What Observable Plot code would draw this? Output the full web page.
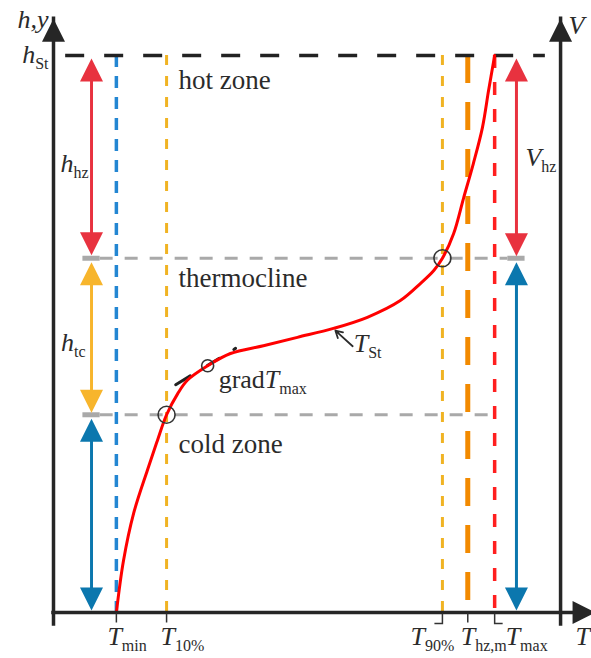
<!DOCTYPE html>
<html><head><meta charset="utf-8">
<script src="https://cdn.jsdelivr.net/npm/d3@7"></script>
<script src="https://cdn.jsdelivr.net/npm/@observablehq/plot@0.6"></script>
<style>
html,body{margin:0;padding:0;background:#fff;overflow:hidden;}
svg{display:block;overflow:hidden;}
</style></head><body><div id="chart"></div>
<script>
// ---------------- values ----------------
// heights (normalised, storage height h_St = 1)
const hSt = 1.0;
const hThermoTop = 0.636;
const hThermoBottom = 0.355;
const hAxisTip = 1.066;
// characteristic temperatures (arbitrary units, V-axis at 100)
const refNames  = ["Tmin", "T10", "T90", "Thzm", "Tmax"];
const refTemps  = [12.4, 22.3, 76.7, 81.7, 87.0];
const refLabels = ["T_min", "T_10%", "T_90%", "T_hz,m", "T_max"];
// temperature profile T_St(h)
const curveT = [12.4, 13.8, 15.8, 18.5, 20.5, 22.3, 24.5, 26.4, 30.4, 34.9, 41.4, 48.1, 55.2, 61.9, 68.4, 72.4, 75.0, 76.7, 78.9, 80.9, 82.8, 84.6, 85.8, 87.0];
const curveH = [0.0, 0.093, 0.178, 0.255, 0.309, 0.355, 0.393, 0.417, 0.443, 0.465, 0.479, 0.494, 0.510, 0.530, 0.560, 0.591, 0.614, 0.636, 0.680, 0.745, 0.806, 0.871, 0.937, 1.0];
// marked points (T10 at cold boundary, max gradient, T90 at thermocline top)
const markT = [22.3, 30.4, 76.7];
const markH = [0.355, 0.443, 0.636];
const markSize = ["big", "small", "big"];
// tangent at max gradient
const tangentT = [24.1, 37.5];
const tangentH = [0.409, 0.483];
// zone texts
const zoneLabels = ["hot zone", "thermocline", "cold zone"];
const zoneHeights = [hSt, hThermoTop, hThermoBottom];

// ---------------- layout / styles ----------------
const C = {ink:"#2b2b2b", curve:"#ff0000", redArrow:"#e8323f", yellowArrow:"#f7b52c", blueArrow:"#0b77ae",
  blueDash:"#2386d2", yellowDash:"#f0b323", orange:"#f28a00", redDash:"#ff1f1f", gray:"#a9a9a9"};
const L = {leftT:7.5, rightT:91.3, vAxisT:100, xTipT:106.9, half:1.7, hStFrom:2.4, hStTo:97};

const tickDown  = {draw(c){c.moveTo(0,0); c.lineTo(0,9);}};
const tickLeft  = {draw(c){c.moveTo(0,0); c.lineTo(0,10); c.lineTo(-8,10);}};
const tickRight = {draw(c){c.moveTo(0,0); c.lineTo(0,10); c.lineTo(8,10);}};
const head = {draw(c, size){const r = Math.sqrt(size/Math.PI); c.moveTo(0,0); c.lineTo(r,2*r); c.lineTo(-r,2*r); c.closePath();}};

const refStyle = {
  Tmin:{stroke:C.blueDash, w:3.5, dash:"12,9", tick:tickDown, dx:-9},
  T10:{stroke:C.yellowDash, w:3, dash:"10,11", tick:tickDown, dx:-6},
  T90:{stroke:C.yellowDash, w:3, dash:"10,11", tick:tickLeft, dx:-32},
  Thzm:{stroke:C.orange, w:5, dash:"28,19", tick:tickDown, dx:-7},
  Tmax:{stroke:C.redDash, w:3.5, dash:"13,14", tick:tickRight, dx:11}
};

const refs = refNames.map((n,i) => ({name:n, T:refTemps[i], label:refLabels[i]}));
const curve = curveT.map((t,i) => ({T:t, h:curveH[i]}));
const marks0 = markT.map((t,i) => ({T:t, h:markH[i], size:markSize[i]}));
const tangent = tangentT.map((t,i) => ({T:t, h:tangentH[i]}));

const arrows = [
  {T:L.leftT,  top:hSt,          bottom:hThermoTop,    color:C.redArrow,    gt:3, gb:3},
  {T:L.leftT,  top:hThermoTop,   bottom:hThermoBottom, color:C.yellowArrow, gt:4, gb:2},
  {T:L.leftT,  top:hThermoBottom,bottom:0,             color:C.blueArrow,   gt:4, gb:2},
  {T:L.rightT, top:hSt,          bottom:hThermoTop,    color:C.redArrow,    gt:3, gb:2},
  {T:L.rightT, top:hThermoTop,   bottom:0,             color:C.blueArrow,   gt:4, gb:2}
];

function label(s, T, h, o) {
  return Plot.text([{T, h, s}], Object.assign({x:"T", y:"h", text:"s", lineAnchor:"bottom",
    textAnchor:"start", fontSize:26, fill:C.ink}, o));
}

const marks = [];
// vertical reference lines
refs.forEach(r => {
  const st = refStyle[r.name];
  marks.push(Plot.ruleX([r], {x:"T", y1:hSt, y2:0, stroke:st.stroke, strokeWidth:st.w, strokeDasharray:st.dash}));
});
// horizontal zone boundaries
marks.push(Plot.ruleY([hSt], {x1:L.hStFrom, x2:L.hStTo, stroke:"#222", strokeWidth:3.5, strokeDasharray:"19,20"}));
marks.push(Plot.ruleY([hThermoTop], {x1:L.leftT + L.half, x2:L.rightT - L.half, stroke:C.gray, strokeWidth:3, strokeDasharray:"13,12"}));
marks.push(Plot.ruleY([hThermoBottom], {x1:L.leftT + L.half, x2:refTemps[4], stroke:C.gray, strokeWidth:3, strokeDasharray:"13,12"}));
// gray boundary bars at arrows
[[L.leftT, hThermoTop], [L.leftT, hThermoBottom], [L.rightT, hThermoTop]].forEach(([t,h]) => {
  marks.push(Plot.ruleY([h], {x1:t - L.half, x2:t + L.half, stroke:C.gray, strokeWidth:5}));
});
// double-headed arrows
arrows.forEach(a => {
  marks.push(Plot.ruleX([a], {x:"T", y1:"top", y2:"bottom", stroke:a.color, strokeWidth:3, insetTop:a.gt + 8, insetBottom:a.gb + 8}));
  marks.push(Plot.dot([a], {x:"T", y:"top", symbol:head, r:11.5, fill:a.color, stroke:"none", dy:a.gt}));
  marks.push(Plot.dot([a], {x:"T", y:"bottom", symbol:head, r:11.5, fill:a.color, stroke:"none", rotate:180, dy:-a.gb}));
});
// tangent at max gradient
marks.push(Plot.line(tangent, {x:"T", y:"h", stroke:"#222", strokeWidth:3, strokeDasharray:"17,20,14,17,2,200"}));
// temperature profile
marks.push(Plot.line(curve, {x:"T", y:"h", curve:"catmull-rom", stroke:C.curve, strokeWidth:3}));
// circles
marks.push(Plot.dot(marks0.filter(d => d.size === "big"), {x:"T", y:"h", r:8.5, stroke:"#333", strokeWidth:1.6, fill:"none"}));
marks.push(Plot.dot(marks0.filter(d => d.size === "small"), {x:"T", y:"h", r:6, stroke:"#333", strokeWidth:1.6, fill:"none"}));
// T_St pointer
marks.push(Plot.arrow([{T1:59.0, h1:0.478, T2:55.6, h2:0.506}], {x1:"T1", y1:"h1", x2:"T2", y2:"h2", stroke:C.ink, strokeWidth:1.8, headLength:11}));
// axes
marks.push(Plot.ruleX([0, L.vAxisT], {x:d => d, y1:0, y2:hAxisTip, stroke:"#262626", strokeWidth:3.5, strokeLinecap:"square", insetTop:12}));
marks.push(Plot.ruleY([0], {x1:0, x2:L.xTipT, stroke:"#262626", strokeWidth:3.5, strokeLinecap:"square", insetRight:12}));
marks.push(Plot.dot([0, L.vAxisT], {x:d => d, y:hAxisTip, symbol:head, r:11.5, fill:"#262626", stroke:"none"}));
marks.push(Plot.dot([L.xTipT], {x:d => d, y:0, symbol:head, r:11.5, fill:"#262626", stroke:"none", rotate:90}));
// axis ticks
refs.forEach(r => {
  marks.push(Plot.dot([r], {x:"T", y:0, symbol:refStyle[r.name].tick, fill:"none", stroke:"#333", strokeWidth:1.5, dy:1}));
});
// texts
refs.forEach(r => marks.push(label(r.label, r.T, 0, {dx:refStyle[r.name].dx, dy:32, fontStyle:"italic"})));
zoneLabels.forEach((s,i) => marks.push(label(s, refTemps[1], zoneHeights[i], {dx:12, dy:[33,29,38][i], fontSize:27})));
marks.push(label("h,y", 0, hAxisTip, {textAnchor:"end", dx:-5, dy:9, fontStyle:"italic"}));
marks.push(label("h_St", 0, hSt, {textAnchor:"end", dx:-5, dy:7, fontStyle:"italic"}));
marks.push(label("V", L.vAxisT, hAxisTip, {dx:8, dy:15, fontStyle:"italic"}));
marks.push(label("T", L.vAxisT, 0, {dx:15, dy:32, fontStyle:"italic"}));
marks.push(label("h_hz", L.leftT, (hSt + hThermoTop)/2, {textAnchor:"end", dx:-3, dy:15, fontStyle:"italic"}));
marks.push(label("h_tc", L.leftT, (hThermoTop + hThermoBottom)/2, {textAnchor:"end", dx:-6, dy:14, fontStyle:"italic"}));
marks.push(label("V_hz", L.rightT, (hSt + hThermoTop)/2, {dx:9, dy:9, fontStyle:"italic"}));
marks.push(label("gradT_max", markT[1], markH[1], {dx:11, dy:22, fontStyle:"italic"}));
marks.push(label("T_St", 59.0, 0.478, {dx:1, dy:6, fontStyle:"italic"}));

const svg = Plot.plot({
  width:591, height:658,
  marginLeft:53, marginRight:0, marginTop:0, marginBottom:46,
  x:{domain:[0, 106.1], axis:null},
  y:{domain:[0, 612/557], axis:null},
  style:{background:"#fff", fontFamily:"'Liberation Serif', 'Times New Roman', serif", overflow:"hidden"},
  marks
});

// subscripts as tspans
d3.select(svg).selectAll("text").each(function() {
  const el = d3.select(this);
  const s = el.text();
  if (!s.includes("_")) return;
  const [headS, sub] = s.split("_");
  el.text(null);
  let main = headS;
  if (headS.startsWith("grad")) {
    el.append("tspan").attr("font-style", "normal").text("grad");
    main = headS.slice(4);
  }
  el.append("tspan").attr("font-style", "italic").text(main);
  el.append("tspan").attr("font-style", "normal").attr("font-size", 16).attr("dy", 6).text(sub);
});
document.getElementById("chart").appendChild(svg);
</script></body></html>
